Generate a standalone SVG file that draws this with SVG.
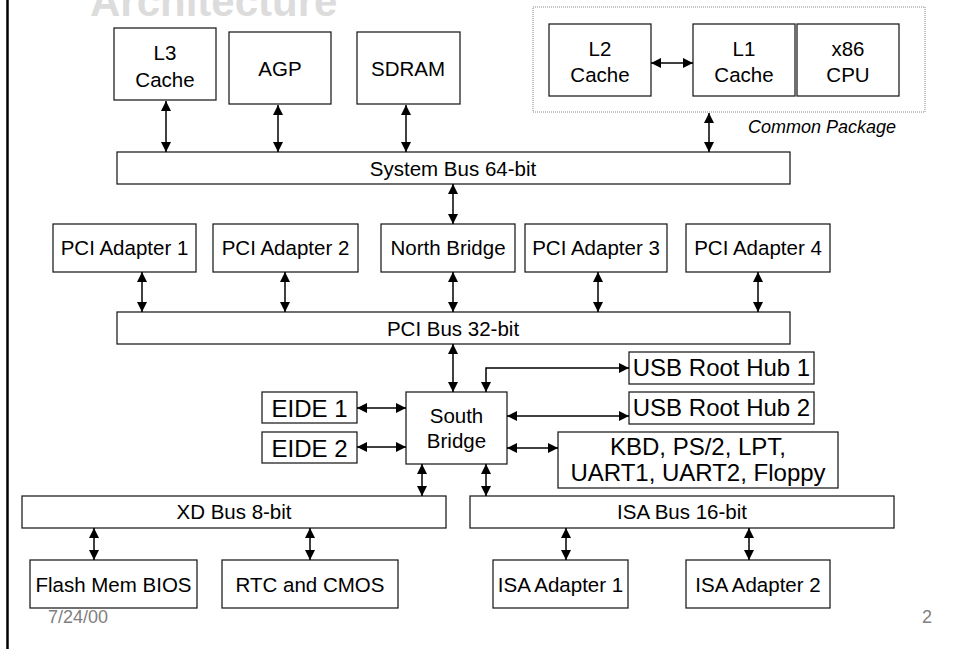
<svg xmlns="http://www.w3.org/2000/svg" width="953" height="649" viewBox="0 0 953 649">
<defs>
<marker id="ah" viewBox="0 0 10 10" refX="10" refY="5" markerWidth="10" markerHeight="10" markerUnits="userSpaceOnUse" orient="auto-start-reverse">
<path d="M0,0 L10,5 L0,10 z" fill="#000"/>
</marker>
<style>
.box{fill:#fff;stroke:#222;stroke-width:1.3}
.t{font-family:"Liberation Sans",Arial,sans-serif;font-size:20.5px;fill:#000;text-anchor:middle}
.tl{font-family:"Liberation Sans",Arial,sans-serif;font-size:24px;fill:#000;text-anchor:middle}
.c{fill:none;stroke:#000;stroke-width:1.5;marker-start:url(#ah);marker-end:url(#ah)}
.g{font-family:"Liberation Sans",Arial,sans-serif;font-size:18px;fill:#808080}
</style>
</defs>
<rect x="0" y="0" width="953" height="649" fill="#fff"/>
<line x1="7.5" y1="0" x2="7.5" y2="649" stroke="#000" stroke-width="2.5"/>
<text x="90" y="16" font-family="'Liberation Sans',Arial,sans-serif" font-size="42" font-weight="bold" fill="#dcdcdc">Architecture</text>

<g id="common-package">
<rect x="533" y="7" width="392" height="105" fill="none" stroke="#888" stroke-width="1" stroke-dasharray="1,1"/>
<text x="896" y="133" font-family="'Liberation Sans',Arial,sans-serif" font-size="18" font-style="italic" text-anchor="end" fill="#000">Common Package</text>
</g>

<g id="l3"><rect class="box" x="114" y="28" width="102" height="72"/><text class="t" x="165" y="60">L3</text><text class="t" x="165" y="87">Cache</text></g>
<g id="agp"><rect class="box" x="229" y="32" width="102" height="72"/><text class="t" x="280" y="76">AGP</text></g>
<g id="sdram"><rect class="box" x="357" y="32" width="103" height="72"/><text class="t" x="408" y="76">SDRAM</text></g>
<g id="l2"><rect class="box" x="549" y="24" width="102" height="72"/><text class="t" x="600" y="56">L2</text><text class="t" x="600" y="82">Cache</text></g>
<g id="l1"><rect class="box" x="693" y="24" width="102" height="72"/><text class="t" x="744" y="56">L1</text><text class="t" x="744" y="82">Cache</text></g>
<g id="cpu"><rect class="box" x="797" y="24" width="102" height="72"/><text class="t" x="848" y="56">x86</text><text class="t" x="848" y="82">CPU</text></g>

<g id="sysbus"><rect class="box" x="117" y="152" width="673" height="32"/><text class="t" x="453" y="176">System Bus 64-bit</text></g>

<g id="pci1"><rect class="box" x="53" y="224" width="143" height="48"/><text class="t" x="124.5" y="255">PCI Adapter 1</text></g>
<g id="pci2"><rect class="box" x="213" y="224" width="145" height="48"/><text class="t" x="285.5" y="255">PCI Adapter 2</text></g>
<g id="northbridge"><rect class="box" x="381" y="224" width="134" height="48"/><text class="t" x="448" y="255">North Bridge</text></g>
<g id="pci3"><rect class="box" x="525" y="224" width="142" height="48"/><text class="t" x="596" y="255">PCI Adapter 3</text></g>
<g id="pci4"><rect class="box" x="686" y="224" width="144" height="48"/><text class="t" x="758" y="255">PCI Adapter 4</text></g>

<g id="pcibus"><rect class="box" x="117" y="312" width="673" height="32"/><text class="t" x="453" y="336">PCI Bus 32-bit</text></g>

<g id="southbridge"><rect class="box" x="406" y="392" width="101" height="72"/><text class="t" x="456.5" y="423">South</text><text class="t" x="456.5" y="448">Bridge</text></g>
<g id="eide1"><rect class="box" x="262" y="392" width="95" height="31"/><text class="tl" x="309.5" y="417">EIDE 1</text></g>
<g id="eide2"><rect class="box" x="262" y="432" width="95" height="31"/><text class="tl" x="309.5" y="457">EIDE 2</text></g>
<g id="usb1"><rect class="box" x="629" y="352" width="185" height="32"/><text class="tl" x="721.5" y="376">USB Root Hub 1</text></g>
<g id="usb2"><rect class="box" x="629" y="392" width="185" height="32"/><text class="tl" x="721.5" y="416">USB Root Hub 2</text></g>
<g id="kbd"><rect class="box" x="558" y="432" width="280" height="56"/><text class="tl" x="698" y="455">KBD, PS/2, LPT,</text><text class="tl" x="698" y="481">UART1, UART2, Floppy</text></g>

<g id="xdbus"><rect class="box" x="22" y="496" width="424" height="32"/><text class="t" x="234" y="519">XD Bus 8-bit</text></g>
<g id="isabus"><rect class="box" x="470" y="496" width="424" height="32"/><text class="t" x="682" y="519">ISA Bus 16-bit</text></g>

<g id="flash"><rect class="box" x="30" y="560" width="167" height="48"/><text class="t" x="113.5" y="592">Flash Mem BIOS</text></g>
<g id="rtc"><rect class="box" x="222" y="560" width="176" height="48"/><text class="t" x="310" y="592">RTC and CMOS</text></g>
<g id="isa1"><rect class="box" x="493" y="560" width="135" height="48"/><text class="t" x="560.5" y="592">ISA Adapter 1</text></g>
<g id="isa2"><rect class="box" x="686" y="560" width="144" height="48"/><text class="t" x="758" y="592">ISA Adapter 2</text></g>

<g id="connectors">
<line class="c" x1="166" y1="101" x2="166" y2="152"/>
<line class="c" x1="278" y1="105" x2="278" y2="152"/>
<line class="c" x1="406" y1="105" x2="406" y2="152"/>
<line class="c" x1="709" y1="113" x2="709" y2="152"/>
<line class="c" x1="651" y1="63" x2="693" y2="63"/>
<line class="c" x1="453" y1="184" x2="453" y2="224"/>
<line class="c" x1="142" y1="272" x2="142" y2="312"/>
<line class="c" x1="285" y1="272" x2="285" y2="312"/>
<line class="c" x1="453" y1="272" x2="453" y2="312"/>
<line class="c" x1="598" y1="272" x2="598" y2="312"/>
<line class="c" x1="758" y1="272" x2="758" y2="312"/>
<line class="c" x1="453" y1="344" x2="453" y2="392"/>
<path class="c" d="M629,368 H486 V392"/>
<line class="c" x1="357" y1="408" x2="406" y2="408"/>
<line class="c" x1="357" y1="447" x2="406" y2="447"/>
<line class="c" x1="507" y1="416" x2="629" y2="416"/>
<line class="c" x1="507" y1="448" x2="558" y2="448"/>
<line class="c" x1="422" y1="464" x2="422" y2="496"/>
<line class="c" x1="486" y1="464" x2="486" y2="496"/>
<line class="c" x1="94" y1="528" x2="94" y2="560"/>
<line class="c" x1="310" y1="528" x2="310" y2="560"/>
<line class="c" x1="566" y1="528" x2="566" y2="560"/>
<line class="c" x1="749" y1="528" x2="749" y2="560"/>
</g>

<text class="g" x="48" y="623">7/24/00</text>
<text class="g" x="932" y="623" text-anchor="end">2</text>
</svg>
